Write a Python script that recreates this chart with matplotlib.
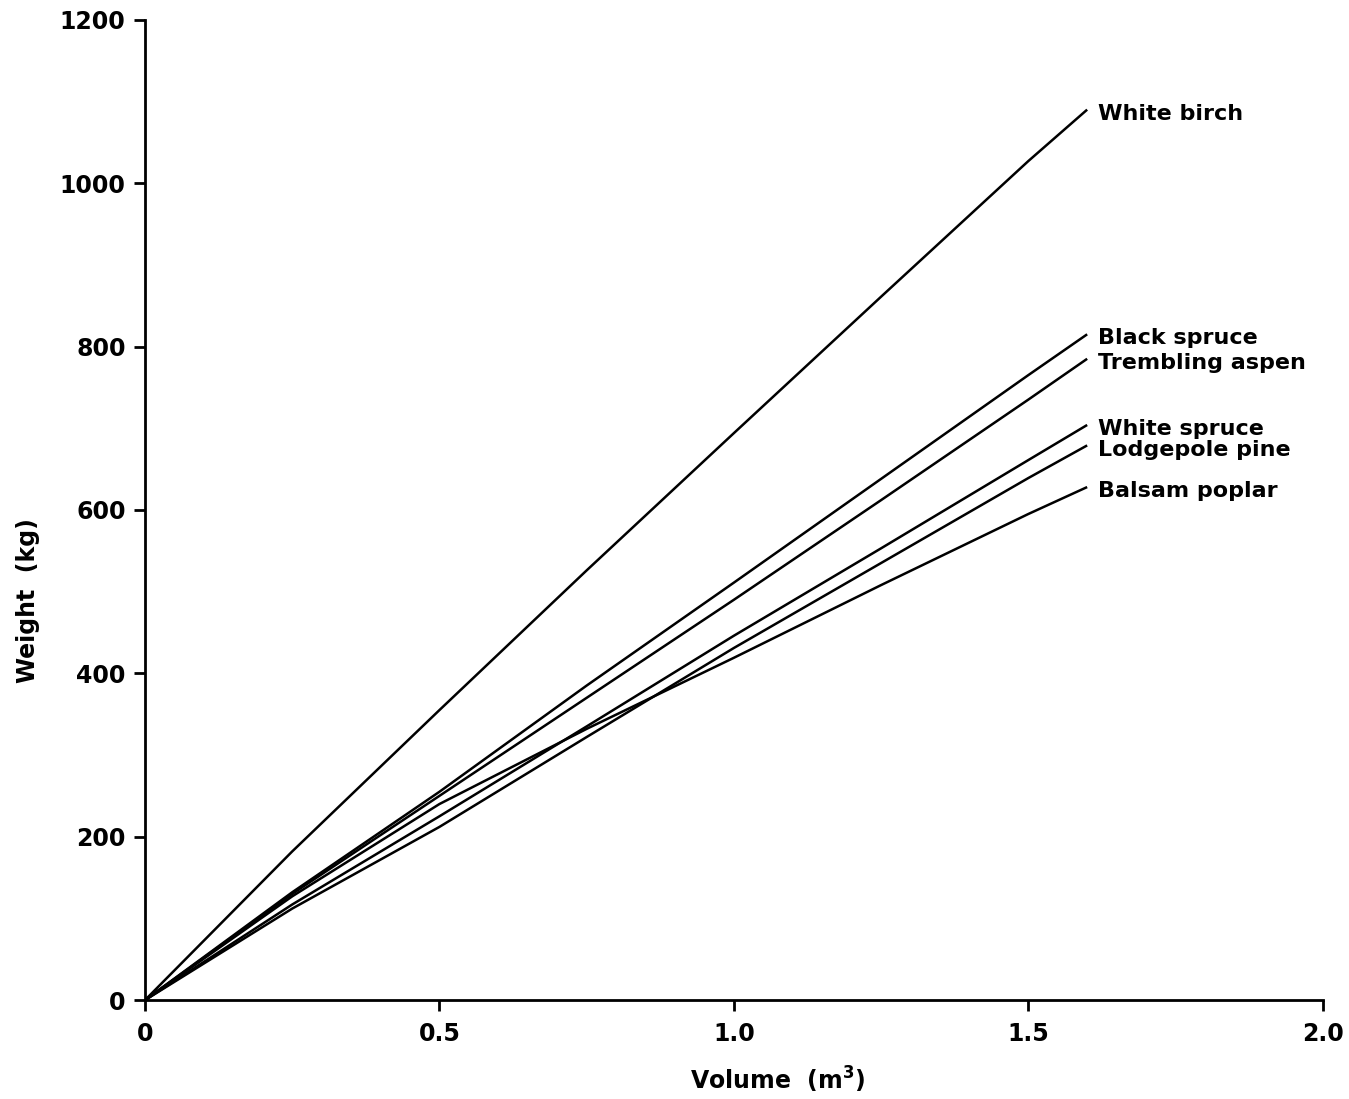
import matplotlib.pyplot as plt

# Volume (m3) at which each curve was read
volume = [0, 0.25, 0.5, 0.75, 1.0, 1.25, 1.5, 1.6]

# Weight (kg)
white_birch     = [0, 182, 355, 526, 694, 861, 1027, 1090]
black_spruce    = [0, 132, 255, 385, 511, 638, 765, 815]
trembling_aspen = [0, 130, 250, 370, 490, 612, 735, 785]
white_spruce    = [0, 117, 225, 335, 446, 553, 661, 704]
lodgepole_pine  = [0, 112, 212, 322, 431, 535, 639, 679]
balsam_poplar   = [0, 127, 240, 332, 419, 508, 595, 628]

species = ['White birch', 'Black spruce', 'Trembling aspen',
           'White spruce', 'Lodgepole pine', 'Balsam poplar']
weights = [white_birch, black_spruce, trembling_aspen,
           white_spruce, lodgepole_pine, balsam_poplar]

xticks = [0, 0.5, 1.0, 1.5, 2.0]
xtick_labels = ['0', '0.5', '1.0', '1.5', '2.0']
yticks = [0, 200, 400, 600, 800, 1000, 1200]

plt.rcParams['font.family'] = 'DejaVu Sans'
plt.rcParams['font.weight'] = 'bold'

fig = plt.figure(figsize=(13.49, 10.99), dpi=100)
ax = fig.add_axes([0.1075, 0.090, 0.873, 0.892])

for name, w in zip(species, weights):
    ax.plot(volume, w, color='k', lw=1.8, solid_capstyle='butt')
    ax.annotate(name, xy=(volume[-1], w[-1]), xytext=(8, -3),
                textcoords='offset points', va='center', ha='left',
                fontsize=16, fontweight='bold')

ax.set(xlim=[0, 2.0], ylim=[0, 1200])
ax.set_xticks(xticks)
ax.set_xticklabels(xtick_labels)
ax.set_yticks(yticks)

for side in ['top', 'right']:
    ax.spines[side].set_visible(False)
for side in ['left', 'bottom']:
    ax.spines[side].set_linewidth(2.0)

ax.tick_params(axis='both', direction='out', length=8, width=2.0,
               labelsize=17, pad=6)
ax.tick_params(axis='x', pad=8)

ax.set_xlabel(r'Volume  (m$^\mathbf{3}$)', fontsize=17, fontweight='bold')
ax.set_ylabel('Weight  (kg)', fontsize=17, fontweight='bold')
ax.xaxis.set_label_coords(0.537, -0.066)
ax.yaxis.set_label_coords(-0.089, 0.408)

fig.savefig('out.png', dpi=100)
